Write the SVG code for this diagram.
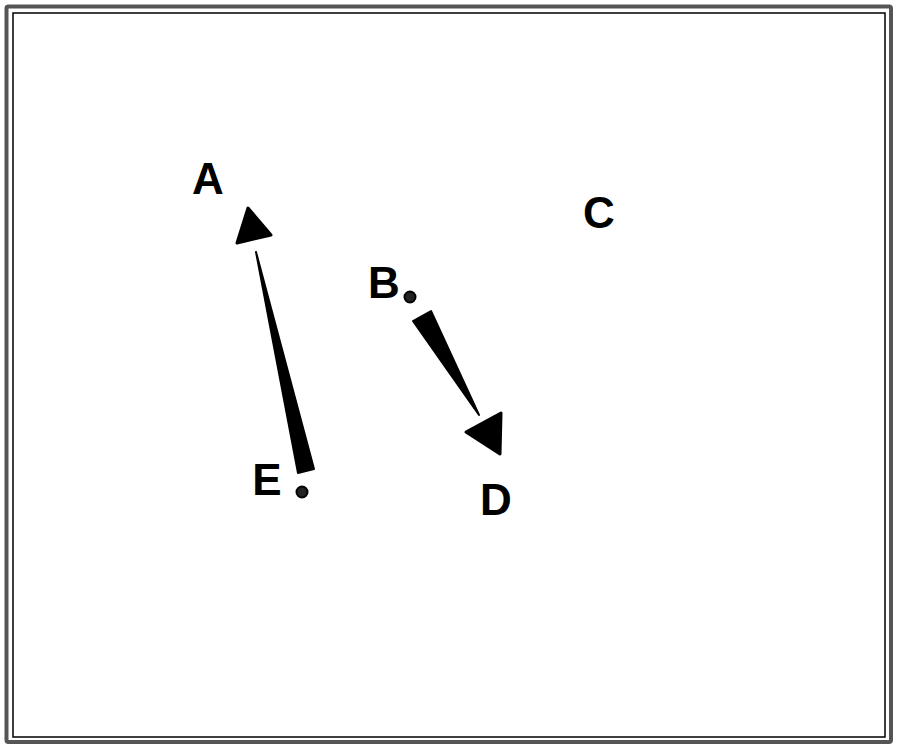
<svg xmlns="http://www.w3.org/2000/svg" width="900" height="752" viewBox="0 0 900 752">
<style>
.lbl{font-family:"Liberation Sans",Arial,sans-serif;font-weight:bold;font-size:44px;fill:#000;text-anchor:middle}
.shaft{fill:#000;stroke:#000;stroke-width:2;stroke-linejoin:round}
.head{fill:#000;stroke:#000;stroke-width:3;stroke-linejoin:round}
.dot{fill:#222;stroke:#000;stroke-width:2}
</style>
<rect x="0" y="0" width="900" height="752" fill="#fff"/>
<rect x="6.5" y="6.5" width="884.5" height="735.5" fill="none" stroke="#555" stroke-width="4" rx="2"/>
<rect x="13" y="13" width="872" height="724" fill="none" stroke="#000" stroke-width="1.5"/>
<g id="connectors">
<g id="edge-E-A">
<polygon class="shaft" points="256,252 298,473 314,469"/>
<polygon class="head" points="248,208 237,243 271,235"/>
</g>
<g id="edge-B-D">
<polygon class="shaft" points="413,321 431,311 479,415"/>
<polygon class="head" points="466,432 501,413 500,454"/>
</g>
</g>
<g id="node-A"><text class="lbl" x="208" y="194">A</text></g>
<g id="node-B"><text class="lbl" x="384" y="298">B</text><circle class="dot" cx="410" cy="297" r="5.5"/></g>
<g id="node-C"><text class="lbl" x="599" y="228">C</text></g>
<g id="node-D"><text class="lbl" x="496" y="515">D</text></g>
<g id="node-E"><text class="lbl" x="267" y="495">E</text><circle class="dot" cx="302" cy="492" r="5.5"/></g>
</svg>
